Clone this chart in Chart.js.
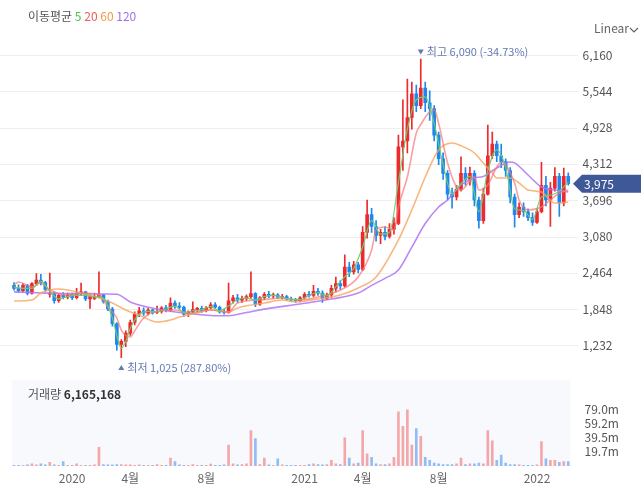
<!DOCTYPE html>
<html><head><meta charset="utf-8">
<script src="https://cdn.jsdelivr.net/npm/chart.js@4.4.1/dist/chart.umd.min.js"></script>
<style>
html,body{margin:0;padding:0;background:#fff;}
#wrap{position:relative;width:641px;height:504px;overflow:hidden;font-family:"Noto Sans CJK KR","Noto Sans",sans-serif;}
canvas{position:absolute;left:0;}
#price{top:0;}
#vol{top:380px;}
.ov{position:absolute;font-size:12px;white-space:nowrap;line-height:14px;}
</style></head><body>
<div id="wrap">
<canvas id="price" width="641" height="380"></canvas>
<canvas id="vol" width="641" height="124"></canvas>
<div class="ov" style="left:28px;top:9px;color:#555">이동평균 <span style="color:#4cc24c">5</span> <span style="color:#f05a5a">20</span> <span style="color:#f59a4a">60</span> <span style="color:#a070f0">120</span></div>
<div class="ov" style="left:594px;top:21px;color:#666">Linear</div>
<svg style="position:absolute;left:629px;top:26px" width="10" height="8"><polyline points="1,2 5,6 9,2" fill="none" stroke="#666" stroke-width="1.2"/></svg>
<div class="ov" id="volTitle" style="left:28px;top:387px;color:#555"></div>
</div>
<script>
// ---- data (weekly candles, week starting Monday) ----
const firstWeek = '2019-09-30';
const open  = [2250,2200,2160,2250,2120,2280,2340,2300,2100,2120, 1990,2080,2050,2090,2040,2120,2140,2020,2030,2060, 2090,1980,1850,1600,1250,1300,1440,1620,1760,1820, 1780,1830,1790,1810,1870,1830,1950,1900,1880,1760, 1800,1840,1860,1820,1870,1920,1880,1800,1790,1990, 2040,2000,2030,2060,2110,1930,2040,2100,2070,2090, 2050,2060,2020,2000,1990,2040,2100,2080,2150,2120, 2030,2090,2200,2280,2240,2560,2480,2600,2520,3150, 3450,3250,3100,3150,3080,3200,3300,4600,4700,5100, 5500,5300,5600,5350,5250,4800,4400,4150,3800,3750, 3880,4150,4050,4150,3700,3350,3800,4450,4650,4450, 4350,4200,3750,3450,3580,3500,3400,3320,3500,3950, 3700,3900,4100,3650,4100];
const high  = [2300,2260,2280,2270,2300,2450,2440,2320,2460,2140, 2100,2130,2120,2120,2200,2290,2150,2090,2120,2480, 2100,2000,1880,1620,1330,1480,1660,1800,1880,1870, 1860,1850,1900,1890,1910,2040,1990,1960,1900,1820, 1970,1880,1900,1890,1960,1960,1900,1850,2290,2080, 2100,2070,2090,2480,2130,2060,2130,2150,2120,2110, 2100,2080,2050,2030,2060,2130,2150,2250,2200,2160, 2120,2250,2390,2330,2770,2640,2660,2640,3250,3700, 3560,3350,3200,3250,3300,3400,4800,5400,5750,5700, 5650,6090,5700,5550,5300,4850,4500,4200,3900,3950, 4430,4250,4260,4200,3750,3900,4970,4850,4700,4650, 4400,4250,3800,3650,3650,3550,3480,3550,4340,4100, 4000,4250,4150,4240,4160];
const low   = [2170,2130,2140,2090,2100,2250,2260,2150,2050,1950, 1960,2020,2020,2010,2020,2080,1990,1860,2010,2040, 1950,1820,1560,1150,1025,1210,1400,1580,1720,1740, 1750,1760,1770,1780,1800,1810,1860,1850,1730,1720, 1780,1800,1790,1800,1850,1860,1780,1760,1780,1950, 1960,1960,1990,2030,1890,1910,2010,2040,2030,2030, 2020,2000,1980,1960,1970,2020,2050,2060,2080,1960, 2010,2040,2150,2180,2220,2400,2440,2460,2500,3050, 3150,3000,2960,3020,3050,3120,3280,4200,4500,4900, 5200,5250,5200,5050,4700,4300,4050,3700,3560,3700, 3850,3950,3950,3600,3220,3300,3780,4400,4350,4250, 4100,3650,3240,3400,3420,3350,3270,3300,3480,3600, 3250,3850,3420,3600,3950];
const close = [2200,2160,2250,2120,2280,2340,2300,2180,2120,1990, 2080,2050,2090,2040,2120,2140,2020,2060,2060,2090, 1980,1850,1600,1250,1300,1440,1620,1760,1820,1780, 1830,1790,1810,1870,1830,1950,1900,1880,1760,1800, 1840,1860,1820,1870,1920,1880,1800,1790,1990,2040, 2000,2030,2060,2110,1930,2040,2100,2070,2090,2050, 2060,2020,2000,1990,2040,2100,2080,2150,2120,2030, 2090,2200,2280,2240,2560,2480,2600,2520,3150,3450, 3250,3100,3150,3080,3200,3300,4600,4700,5100,5500, 5300,5600,5350,5250,4800,4400,4150,3800,3750,3880, 4150,4050,4150,3700,3350,3800,4450,4650,4450,4350, 4200,3750,3450,3580,3500,3400,3320,3500,3950,3700, 3900,4100,3650,4100,3975];
// volume in millions (peak daily volume seen in each week)
const volumeM = [1,1,1,1.5,3,1.5,3,1.5,5,1.5, 1,6,1,1,3,1,1,1,1.5,26, 2,1.5,1.5,2,2,1.5,1.5,1,1.5,1, 1,1,2,1,1,11,6,1.5,1,1, 2,1,1,1,2.5,1,1,1.5,29,3, 1.5,2,3,49,38,2,11,1.5,1,10, 1.5,1,1,1,1,1,2,3,2,1.5, 2,8,3,2,39,11,3,4,49,17, 12,3,2,2,3,12,75,55,78,29, 52,41,12,8,4,3,2,2,2,3, 11,2,3,3,4,3,49,35,8,15, 4,2,2,1.5,1,1,1,1.5,34,10, 8,8,5,6,6];
const lastVolume = 6165168;
// moving averages: [week index, value]
const ma5 = [[0,2220],[2,2200],[4,2200],[6,2320],[8,2150],[10,2020],[12,2060],[14,2080],[16,2080],[18,2060],[20,2030],[22,1700],[23,1400],[24,1180],[25,1300],[26,1520],[28,1760],[30,1810],[32,1800],[34,1850],[36,1900],[38,1790],[40,1820],[42,1840],[44,1890],[46,1820],[48,1900],[50,2010],[52,2040],[54,2000],[56,2060],[58,2080],[60,2050],[62,2010],[64,2010],[66,2080],[68,2130],[70,2070],[72,2230],[74,2400],[76,2540],[78,2900],[80,3350],[82,3120],[84,3150],[86,4000],[88,4900],[90,5400],[92,5450],[94,5000],[96,4300],[98,3800],[100,3980],[102,4100],[104,3500],[106,4200],[108,4550],[110,4250],[112,3550],[114,3520],[116,3370],[118,3750],[120,3780],[122,3850],[124,4000]];
const ma20 = [[0,2257],[1,2308],[4,2223],[6,2291],[8,2172],[12,2087],[15,2121],[19,2087],[21,1884],[23,1697],[24,1493],[26,1374],[27,1480],[29,1697],[31,1790],[36,1833],[39,1782],[44,1833],[48,1799],[50,1951],[55,2002],[60,2036],[64,2002],[68,2053],[73,2172],[77,2393],[80,2851],[81,3190],[83,3241],[85,3190],[86,3581],[88,4090],[90,4836],[91,4980],[93,5200],[94,5230],[95,5000],[97,4327],[99,3920],[100,3869],[103,4090],[104,3869],[106,3954],[108,4259],[109,4344],[112,3988],[113,3700],[115,3530],[118,3581],[120,3700],[122,3818],[124,3869]];
const ma60 = [[0,1985],[4,2002],[6,2121],[10,2189],[12,2172],[15,2121],[19,2036],[22,1951],[25,1833],[28,1748],[32,1629],[35,1663],[37,1714],[41,1782],[44,1833],[48,1799],[50,1867],[56,1951],[60,2002],[63,1969],[68,2019],[73,2087],[77,2206],[81,2393],[86,3021],[89,3530],[92,4090],[95,4548],[98,4667],[100,4620],[103,4497],[105,4327],[107,4157],[108,4073],[111,4073],[113,3988],[115,3869],[118,3835],[121,3648],[124,3665]];
const ma120 = [[0,2140],[7,2120],[16,2110],[23,2100],[26,1970],[30,1880],[37,1790],[44,1740],[48,1735],[52,1790],[57,1860],[64,1935],[71,2019],[77,2121],[80,2250],[83,2370],[86,2512],[89,2900],[92,3300],[95,3580],[97,3700],[100,3954],[103,4073],[105,4100],[108,4242],[111,4344],[112,4330],[115,4124],[118,3920],[121,3869],[124,3835]];
const priceTicks = [1232,1848,2464,3080,3696,4312,4928,5544,6160];
const volumeTicks = [19.75,39.5,59.25,79];

// ---- build ----
const FONT = '"Noto Sans CJK KR","Noto Sans",sans-serif';
Chart.defaults.font.family = FONT;
const DAY = 864e5;
const t0 = Date.parse(firstWeek + 'T00:00:00Z');
const labels = close.map((_, i) => new Date(t0 + i * 7 * DAY).toISOString().slice(0, 10));
const RED = '#ee2a2e', BLUE = '#1f87ee';
const colors = close.map((c, i) => c >= open[i] ? RED : BLUE);
const volColors = close.map((c, i) => c >= open[i] ? 'rgba(240,100,100,0.55)' : 'rgba(60,140,240,0.55)');
const wick = labels.map((_, i) => [low[i], high[i]]);
const body = labels.map((_, i) => [open[i], close[i]]);
const pts = arr => arr.map(([i, v]) => ({ x: labels[i], y: v }));
const fmt = v => v.toLocaleString('en-US');
document.getElementById('volTitle').innerHTML = '거래량 <b style="color:#333">' + fmt(lastVolume) + '</b>';

const LEFT = 11.8, AXW = 70.5;
const fitY = s => { s.width = AXW; s.paddingTop = 0; s.paddingBottom = 0; };
const lineDs = (data, color, w) => ({ type: 'line', data: pts(data), borderColor: color, borderWidth: w, pointRadius: 0, cubicInterpolationMode: 'monotone', order: 0 });

const pricePlugin = {
  id: 'pricePlugin',
  beforeDatasetsDraw(chart) {
    const { ctx } = chart; const y = chart.scales.y;
    ctx.save(); ctx.strokeStyle = '#eeeeee'; ctx.lineWidth = 1;
    for (const v of priceTicks) {
      const py = Math.round(y.getPixelForValue(v)) + 0.5;
      ctx.beginPath(); ctx.moveTo(0, py); ctx.lineTo(578, py); ctx.stroke();
    }
    ctx.restore();
  },
  afterDatasetsDraw(chart) {
    const { ctx } = chart; const x = chart.scales.x, y = chart.scales.y;
    let hi = 0, lo = 0;
    high.forEach((v, i) => { if (v > high[hi]) hi = i; });
    low.forEach((v, i) => { if (v < low[lo]) lo = i; });
    const last = close[close.length - 1];
    const pct = v => ((last - v) / v * 100).toFixed(2) + '%';
    ctx.save();
    ctx.fillStyle = '#6479b2';
    ctx.font = '11px ' + FONT; ctx.textAlign = 'left'; ctx.textBaseline = 'middle';
    const xh = x.getPixelForValue(hi), yh = y.getPixelForValue(high[hi]) - 7;
    ctx.beginPath(); ctx.moveTo(xh - 3, yh - 2.5); ctx.lineTo(xh + 3, yh - 2.5); ctx.lineTo(xh, yh + 2.5); ctx.closePath(); ctx.fill();
    ctx.fillText('최고 ' + fmt(high[hi]) + ' (' + pct(high[hi]) + ')', xh + 6, yh);
    const xl = x.getPixelForValue(lo), yl = y.getPixelForValue(low[lo]) + 10;
    ctx.beginPath(); ctx.moveTo(xl - 3, yl + 2.5); ctx.lineTo(xl + 3, yl + 2.5); ctx.lineTo(xl, yl - 2.5); ctx.closePath(); ctx.fill();
    ctx.fillText('최저 ' + fmt(low[lo]) + ' (' + pct(low[lo]) + ')', xl + 6, yl);
    ctx.restore();
  },
  afterDraw(chart) {
    const { ctx } = chart; const y = chart.scales.y;
    const last = close[close.length - 1];
    const py = y.getPixelForValue(last);
    ctx.save();
    ctx.fillStyle = '#3f5897';
    ctx.beginPath(); ctx.moveTo(573, py); ctx.lineTo(582, py - 9); ctx.lineTo(641, py - 9); ctx.lineTo(641, py + 9); ctx.lineTo(582, py + 9); ctx.closePath(); ctx.fill();
    ctx.fillStyle = '#fff'; ctx.font = '12px ' + FONT; ctx.textAlign = 'left'; ctx.textBaseline = 'middle';
    ctx.fillText(fmt(last), 584, py + 0.5);
    ctx.restore();
  }
};

new Chart(document.getElementById('price'), {
  data: {
    labels,
    datasets: [
      lineDs(ma5, 'rgba(110,205,110,0.95)', 1.2),
      lineDs(ma20, 'rgba(244,120,120,0.7)', 1.6),
      lineDs(ma60, 'rgba(247,165,95,0.8)', 1.6),
      lineDs(ma120, 'rgba(175,115,245,0.85)', 1.6),
      { type: 'bar', data: wick, backgroundColor: colors, barThickness: 1, grouped: false, order: 5 },
      { type: 'bar', data: body, backgroundColor: colors, barThickness: 3, grouped: false, order: 5 }
    ]
  },
  options: {
    responsive: false, animation: false, events: [],
    layout: { padding: { left: LEFT, right: 0, top: 30, bottom: 2 } },
    plugins: { legend: { display: false }, tooltip: { enabled: false } },
    scales: {
      x: { display: false, offset: true },
      y: {
        position: 'right', min: 679, max: 6584,
        afterBuildTicks: s => { s.ticks = priceTicks.map(v => ({ value: v })); },
        afterFit: fitY,
        grid: { display: false, drawTicks: false }, border: { display: false },
        ticks: { padding: 12, color: '#555', font: { size: 12 }, callback: v => fmt(v) }
      }
    }
  },
  plugins: [pricePlugin]
});

const volPlugin = {
  id: 'volBg',
  beforeDraw(chart) {
    const { ctx, chartArea } = chart;
    ctx.save(); ctx.fillStyle = '#f8f9fc';
    ctx.fillRect(chartArea.left, 0, chartArea.right - chartArea.left, chartArea.bottom);
    ctx.restore();
  }
};

new Chart(document.getElementById('vol'), {
  data: {
    labels,
    datasets: [{ type: 'bar', data: volumeM, backgroundColor: volColors, barThickness: 2 }]
  },
  options: {
    responsive: false, animation: false, events: [],
    layout: { padding: { left: LEFT, right: 0, top: 2, bottom: 0 } },
    plugins: { legend: { display: false }, tooltip: { enabled: false } },
    scales: {
      x: {
        offset: true, grid: { display: false, drawTicks: false }, border: { display: false },
        afterFit: s => { s.height = 38; },
        ticks: {
          autoSkip: false, maxRotation: 0, padding: 5, color: '#666', font: { size: 12 },
          callback: (v, i) => {
            const mon = new Date(t0 + i * 7 * DAY), sun = new Date(t0 + i * 7 * DAY + 6 * DAY);
            if (mon.getUTCMonth() !== sun.getUTCMonth() || mon.getUTCDate() === 1) {
              const m = sun.getUTCMonth() + 1;
              if (m === 1) return String(sun.getUTCFullYear());
              if (m === 4 || m === 8) return m + '월';
            }
            return '';
          }
        }
      },
      y: {
        position: 'right', min: 0, max: 116.4,
        afterBuildTicks: s => { s.ticks = volumeTicks.map(v => ({ value: v })); },
        afterFit: fitY,
        grid: { display: false, drawTicks: false }, border: { display: false },
        ticks: { padding: 14, color: '#555', font: { size: 12 }, callback: v => (Math.floor(v * 10) / 10).toFixed(1) + 'm' }
      }
    }
  },
  plugins: [volPlugin]
});
</script>
</body></html>
